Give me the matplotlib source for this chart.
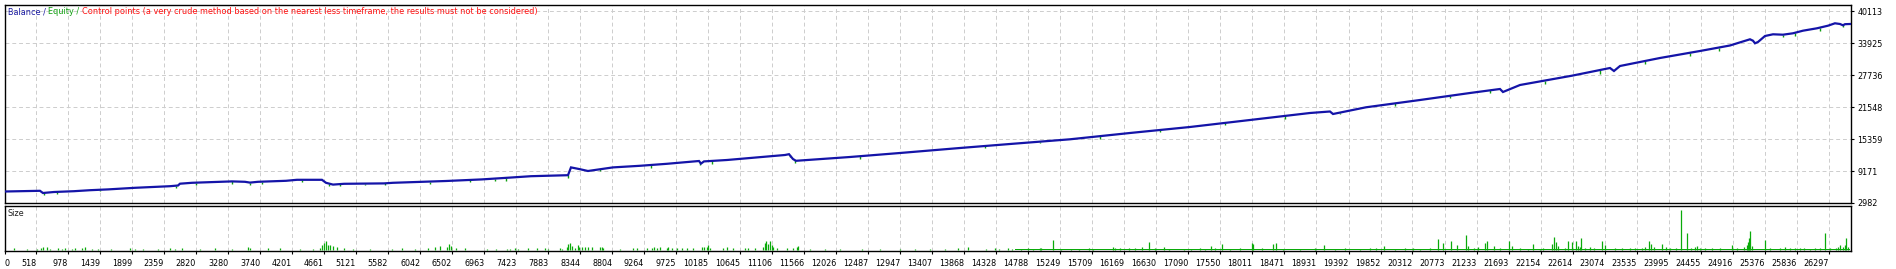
import numpy as np
import matplotlib
matplotlib.use("Agg")
import matplotlib.pyplot as plt

W, H, DPI = 1896, 269, 100

# ---------------- data ----------------
trade_ticks = [518, 978, 1439, 1899, 2359, 2820, 3280, 3740, 4201, 4661, 5121, 5582, 6042,
               6502, 6963, 7423, 7883, 8344, 8804, 9264, 9725, 10185, 10645, 11106, 11566,
               12026, 12487, 12947, 13407, 13868, 14328, 14788, 15249, 15709, 16169, 16630,
               17090, 17550, 18011, 18471, 18931, 19392, 19852, 20312, 20773, 21233, 21693,
               22154, 22614, 23074, 23535, 23995, 24455, 24916, 25376, 25836, 26297]
value_ticks = [2982, 9171, 15359, 21548, 27736, 33925, 40113]

balance_trade = [72, 575, 618, 777, 1064, 1294, 1553, 1941, 2445, 2560, 2588, 2761, 3336,
                 3523, 3595, 3710, 4113, 4271, 4630, 4688, 4789, 4947, 5522, 5651, 6413,
                 6931, 7377, 7636, 8168, 8211, 8340, 8455, 8815, 9203, 9591, 10052, 10080,
                 10124, 10454, 11288, 11346, 11403, 11446, 12223, 12942, 13805, 14524,
                 15387, 16249, 17112, 17975, 18838, 19125, 19169, 19643, 20420, 21139,
                 21570, 21613, 21858, 22605, 23152, 23209, 23296, 23871, 24446, 24877,
                 25165, 25208, 25237, 25280, 25381, 25496, 25640, 25783, 25927, 26128,
                 26287, 26387, 26459, 26502, 26531, 26603]
balance_value = [5210, 5345, 4919, 5113, 5268, 5461, 5616, 5926, 6236, 6372, 6720, 6895, 7166,
                 7088, 6933, 7088, 7282, 7476, 7476, 6895, 6546, 6701, 6779, 6895, 7243,
                 7553, 7941, 8173, 8367, 9878, 9529, 9180, 9878, 10188, 10575, 11117, 10614,
                 11040, 11311, 12280, 12435, 11505, 11156, 11892, 12667, 13636, 14410,
                 15321, 16541, 17703, 19059, 20415, 20706, 20221, 21519, 22933, 24289,
                 25064, 24483, 25839, 27640, 29132, 28550, 29519, 31069, 32424, 33490,
                 34691, 34419, 33916, 34168, 35330, 35659, 35582, 35853, 36357, 36821,
                 37325, 37790, 37654, 37403, 37616, 37654]

equity_dip_trade = [633, 820, 1438, 2531, 2818, 3336, 3595, 3768, 4343, 4731, 4889, 5249, 5536,
                    6183, 6759, 7118, 7276, 8168, 8628, 9361, 10066, 10239, 11360, 11432,
                    12367, 14164, 14955, 15818, 16681, 17616, 18479, 19269, 20060, 20851,
                    21426, 22217, 23008, 23650, 24297, 24714, 25640, 25812, 26172, 26502]
equity_dip_value = [4628, 4822, 5210, 5888, 6469, 6759, 6469, 6662, 7050, 6275, 6275, 6469, 6372,
                    6662, 6953, 7243, 7243, 7921, 9084, 9858, 10343, 10536, 11892, 10730,
                    11505, 13539, 14507, 15379, 16735, 18091, 19253, 20221, 21771, 23321,
                    24289, 26035, 27969, 29905, 31456, 32424, 35136, 35330, 36299, 36977]

size_trade = [201, 388, 532, 590, 618, 676, 719, 834, 892, 935, 1035, 1079, 1179, 1222, 1323,
              1409, 1596, 1869, 1941, 2056, 2272, 2445, 2517, 2617, 2876, 3092, 3336, 3566,
              3595, 3854, 4026, 4314, 4501, 4602, 4630, 4659, 4688, 4717, 4745, 4789, 4846,
              4947, 5076, 5321, 5637, 5781, 5968, 6155, 6255, 6327, 6428, 6457, 6485, 6557,
              6687, 7003, 7132,
              7291, 7334, 7406, 7449, 7593, 7722, 7837, 7880, 8053, 8082, 8153, 8168, 8197,
              8225, 8269, 8312, 8326, 8369, 8412, 8455, 8513, 8628, 8657, 8671, 8916, 9103,
              9160, 9304, 9376, 9405, 9448, 9491, 9591, 9606, 9663, 9735, 9807, 9879, 9965,
              10095, 10124, 10167, 10181, 10210, 10397, 10454, 10541, 10713, 10756, 10857,
              10972, 11001, 11015, 11044, 11073, 11101, 11116, 11173, 11317, 11403, 11461,
              11475,
              11648, 11864, 12079, 12396, 12654, 12942, 13158, 13373, 13589, 13776,
              13920, 14179, 14308, 14366, 14495, 14553, 14682, 14783, 14855, 14955, 14970,
              15142, 15257, 15401, 15516, 15660, 15717, 16005, 16034, 16106, 16235, 16321,
              16422, 16523, 16609, 16738, 16810, 17026, 17127, 17256,
              17328, 17414, 17472, 17572, 17687, 17831, 18004, 18018, 18148, 18306, 18349,
              18450, 18694, 18910, 19039, 19197, 19341, 19557, 19701, 19787, 19902, 20060,
              20204, 20319, 20420, 20563, 20678, 20750, 20865, 20952, 21081, 21110, 21196,
              21254, 21354, 21383, 21484, 21570, 21699, 21743, 21858, 21973, 22045, 22145,
              22188,
              22318, 22347, 22375, 22404, 22505, 22548, 22605, 22663, 22692, 22720, 22735,
              22792, 22864, 22922, 23037, 23080, 23224, 23324, 23439, 23511, 23612, 23655,
              23713, 23741, 23785, 23900, 23957, 24015, 24101, 24173, 24259, 24317, 24374,
              24403, 24446, 24518, 24619, 24734, 24906, 24978, 25079, 25122, 25136, 25151,
              25165, 25194, 25381, 25453, 25596, 25668, 25740, 25812,
              25884, 25942, 26028, 26100, 26172, 26244, 26315, 26402, 26430, 26459, 26502,
              26531, 26545, 26574]
size_lots = [0.02, 0.01, 0.01, 0.02, 0.03, 0.03, 0.01, 0.02, 0.01, 0.02, 0.01, 0.02, 0.02, 0.03, 0.01,
             0.01, 0.015, 0.02, 0.015, 0.01, 0.01, 0.02, 0.015, 0.02, 0.015, 0.02, 0.015, 0.03,
             0.02, 0.02, 0.02, 0.01, 0.015, 0.025, 0.05, 0.07, 0.095, 0.055, 0.05, 0.04, 0.03,
             0.02, 0.015, 0.01, 0.01, 0.02, 0.015, 0.02, 0.03, 0.04, 0.03, 0.06, 0.04, 0.02,
             0.02, 0.01, 0.01,
             0.013, 0.013, 0.02, 0.013, 0.02, 0.017, 0.017, 0.013, 0.02, 0.013, 0.033, 0.057, 0.067,
             0.04, 0.02, 0.047, 0.033, 0.033, 0.03, 0.033, 0.03, 0.027, 0.033, 0.02, 0.013, 0.02,
             0.017, 0.02, 0.023, 0.033, 0.023, 0.033, 0.023, 0.03, 0.02, 0.023, 0.02, 0.017, 0.02,
             0.027, 0.033, 0.03, 0.047, 0.02, 0.023, 0.033, 0.017, 0.017, 0.02, 0.023,
             0.033, 0.073, 0.09, 0.057, 0.09, 0.053, 0.03, 0.02, 0.02, 0.023, 0.033,
             0.04,
             0.01, 0.015, 0.01, 0.015, 0.01, 0.015, 0.01, 0.015, 0.01, 0.02,
             0.03, 0.015, 0.02, 0.015, 0.02, 0.015, 0.015, 0.02, 0.015, 0.02, 0.025,
             0.105, 0.015, 0.01, 0.015, 0.02, 0.015, 0.03, 0.02, 0.02, 0.025, 0.02,
             0.03, 0.08, 0.02, 0.03, 0.015, 0.01, 0.015, 0.02,
             0.01, 0.04, 0.02, 0.06, 0.013, 0.017, 0.07, 0.057, 0.02, 0.06, 0.073,
             0.013, 0.01, 0.017, 0.05, 0.013, 0.017, 0.013, 0.02, 0.017, 0.043, 0.013,
             0.017, 0.02, 0.013, 0.017, 0.11, 0.067, 0.09, 0.047, 0.15, 0.04, 0.02,
             0.033, 0.073, 0.087, 0.04, 0.02, 0.09, 0.04, 0.017, 0.013, 0.06, 0.013,
             0.023,
             0.063, 0.127, 0.083, 0.04, 0.02, 0.09, 0.08, 0.09, 0.04, 0.033, 0.12,
             0.02, 0.03, 0.02, 0.09, 0.05, 0.02, 0.017, 0.02, 0.017, 0.02, 0.03,
             0.09, 0.06, 0.03, 0.06, 0.027, 0.017, 0.02, 0.40, 0.17, 0.02, 0.03,
             0.043, 0.02, 0.017, 0.02, 0.017, 0.05, 0.023, 0.03, 0.05, 0.08, 0.12,
             0.19, 0.04, 0.10, 0.02, 0.02, 0.027, 0.017, 0.02,
             0.017, 0.02, 0.013, 0.02, 0.017, 0.17, 0.017, 0.017, 0.03, 0.047, 0.033,
             0.05, 0.12, 0.03]
size_base_trade = [14596, 26603]
size_base_lots = 0.012

legend_parts = ["Balance / ", "Equity / ",
                "Control points (a very crude method based on the nearest less timeframe, "
                "the results must not be considered)"]
legend_colors = ["#1a1aa0", "#10a010", "#ff1010"]

# ---------------- figure ----------------
plt.rcParams['font.family'] = ['DejaVu Sans']
fig = plt.figure(figsize=(W / DPI, H / DPI), dpi=DPI, facecolor='white')


def rect(l, t, r, b):
    return [l / W, 1 - b / H, (r - l) / W, (b - t) / H]


ax = fig.add_axes(rect(4.5, 4.5, 1851.3, 203))
axs = fig.add_axes(rect(4.5, 205.5, 1851.3, 251))

XMIN, XMAX = 65, 26622
grid_kw = dict(color='#cdcdcd', linestyle=(0, (4, 3)), linewidth=0.7)

for a in (ax, axs):
    a.set_xlim(XMIN, XMAX)
    for s in a.spines.values():
        s.set_color('black')
        s.set_linewidth(1.0)
    a.set_facecolor('white')

# main panel
ax.set_ylim(2982, 41430)
ax.set_xticks(trade_ticks)
ax.set_yticks(value_ticks)
ax.set_yticklabels([str(v) for v in value_ticks])
ax.yaxis.tick_right()
ax.tick_params(axis='x', bottom=False, labelbottom=False)
ax.tick_params(axis='y', right=True, left=False, length=2.5, width=0.8, pad=2,
               labelsize=5.8, colors='black')
ax.grid(True, **grid_kw)
ax.set_axisbelow(True)

bal_at_dips = np.interp(equity_dip_trade, balance_trade, balance_value)
ax.vlines(equity_dip_trade, equity_dip_value, bal_at_dips, color='#10a010', lw=1.0, zorder=3)
ax.plot(balance_trade, balance_value, color='#1414a8', lw=1.6, zorder=4,
        solid_joinstyle='miter')

# legend text chain
t0 = ax.text(8 / W, 1 - 12 / H, legend_parts[0], transform=fig.transFigure,
             color=legend_colors[0], fontsize=5.85, va='center', ha='left')
prev = t0
for txt, col in zip(legend_parts[1:], legend_colors[1:]):
    prev = ax.annotate(txt, xy=(1, 0.5), xycoords=prev, va='center', ha='left',
                       color=col, fontsize=5.85)

# size panel
axs.set_ylim(-0.01, 0.445)
axs.set_yticks([])
axs.set_xticks([XMIN] + trade_ticks)
axs.set_xticklabels(['0'] + [str(v) for v in trade_ticks])
axs.tick_params(axis='x', length=2.5, width=0.8, pad=3.5, labelsize=5.8, colors='black')
for i, lab in enumerate(axs.get_xticklabels()):
    lab.set_ha('left' if i == 0 else 'right')
axs.grid(True, axis='x', **grid_kw)
axs.set_axisbelow(True)
axs.fill_between(size_base_trade, 0, size_base_lots, color='#0aaa0a', lw=0, zorder=2)
axs.vlines(size_trade, 0, size_lots, color='#0aaa0a', lw=0.9, zorder=3)
axs.text(8 / W, 1 - 214 / H, 'Size', transform=fig.transFigure, fontsize=5.85,
         color='#202020', va='center', ha='left')

fig.savefig('out.png', dpi=DPI, facecolor='white')
